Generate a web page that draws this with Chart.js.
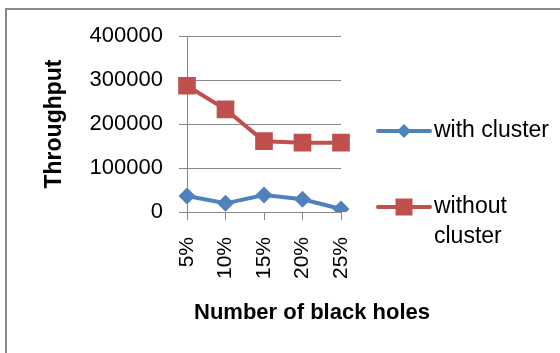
<!DOCTYPE html>
<html>
<head>
<meta charset="utf-8">
<title>Throughput vs number of black holes</title>
<script src="https://cdn.jsdelivr.net/npm/chart.js@4/dist/chart.umd.min.js"></script>
<style>
  html, body { margin: 0; padding: 0; background: #ffffff; }
  #wrap { width: 560px; height: 353px; position: relative; }
</style>
</head>
<body>
<div id="wrap"><canvas id="chart" width="560" height="353"></canvas></div>
<script>
// Share of black-hole nodes in the network
const categories = ['5%', '10%', '15%', '20%', '25%'];
// Throughput per scenario
const withCluster = [36400, 19700, 38600, 28800, 6800];
const withoutCluster = [287000, 233400, 161000, 157500, 157500];
// Value axis ticks
const yTicks = [0, 100000, 200000, 300000, 400000];

const seriesNames = ['with cluster', 'without cluster'];
const xAxisTitle = 'Number of black holes';
const yAxisTitle = 'Throughput';

const BLUE = '#4F81BD';
const RED = '#C0504D';
const GREY = '#878787';
const FONT = "'Liberation Sans', Arial, sans-serif";

// Grey frame round the chart
const framePlugin = {
  id: 'frame',
  beforeDraw(chart) {
    const ctx = chart.ctx;
    ctx.save();
    ctx.fillStyle = '#ffffff';
    ctx.fillRect(0, 0, chart.width, chart.height);
    ctx.strokeStyle = '#8a8a8a';
    ctx.lineWidth = 2;
    ctx.strokeRect(6, 9, chart.width + 20, chart.height + 20);
    ctx.restore();
  }
};

// Category axis title, centred under the plot and legend block
const bottomTitle = {
  id: 'bottomTitle',
  afterDraw(chart) {
    const ctx = chart.ctx;
    ctx.save();
    ctx.font = 'bold 22px ' + FONT;
    ctx.fillStyle = '#000000';
    ctx.textAlign = 'center';
    ctx.textBaseline = 'middle';
    ctx.fillText(xAxisTitle, 312, 313);
    ctx.restore();
  }
};

// Legend on the right, with word-wrapped labels
const sideLegend = {
  id: 'sideLegend',
  afterDraw(chart) {
    const ctx = chart.ctx;
    const lineX0 = 378, lineX1 = 430, textX = 434;
    const rowY = [131, 207];
    const lineGap = 30;
    const maxW = chart.width - textX - 4;
    ctx.save();
    ctx.font = '23px ' + FONT;
    ctx.textBaseline = 'middle';
    ctx.textAlign = 'left';
    chart.data.datasets.forEach((ds, i) => {
      const y = rowY[i];
      const cx = (lineX0 + lineX1) / 2;
      ctx.strokeStyle = ds.borderColor;
      ctx.lineWidth = 4;
      ctx.lineCap = 'round';
      ctx.beginPath();
      ctx.moveTo(lineX0, y);
      ctx.lineTo(lineX1, y);
      ctx.stroke();
      ctx.fillStyle = ds.pointBackgroundColor;
      ctx.beginPath();
      if (ds.pointStyle === 'rectRot') {
        const r = 7;
        ctx.moveTo(cx, y - r);
        ctx.lineTo(cx + r, y);
        ctx.lineTo(cx, y + r);
        ctx.lineTo(cx - r, y);
        ctx.closePath();
      } else {
        const h = 8.5;
        ctx.rect(cx - h, y - h, 2 * h, 2 * h);
      }
      ctx.fill();
      // wrap label words to the space left of the frame edge
      const words = ds.label.split(' ');
      const lines = [];
      let cur = '';
      words.forEach(w => {
        const test = cur ? cur + ' ' + w : w;
        if (cur && ctx.measureText(test).width > maxW) {
          lines.push(cur);
          cur = w;
        } else {
          cur = test;
        }
      });
      if (cur) lines.push(cur);
      ctx.fillStyle = '#000000';
      lines.forEach((ln, k) => ctx.fillText(ln, textX, y + k * lineGap));
    });
    ctx.restore();
  }
};

new Chart(document.getElementById('chart'), {
  type: 'line',
  data: {
    labels: categories,
    datasets: [
      {
        label: seriesNames[0],
        data: withCluster,
        borderColor: BLUE,
        backgroundColor: BLUE,
        pointBackgroundColor: BLUE,
        pointBorderColor: BLUE,
        pointStyle: 'rectRot',
        pointRadius: 8.5,
        pointBorderWidth: 0,
        borderWidth: 4,
        tension: 0,
        fill: false
      },
      {
        label: seriesNames[1],
        data: withoutCluster,
        borderColor: RED,
        backgroundColor: RED,
        pointBackgroundColor: RED,
        pointBorderColor: RED,
        pointStyle: 'rect',
        pointRadius: 12.5,
        pointBorderWidth: 0,
        borderWidth: 4,
        tension: 0,
        fill: false
      }
    ]
  },
  options: {
    responsive: false,
    animation: false,
    events: [],
    layout: { padding: { top: 36, right: 219, bottom: 0, left: 0 } },
    plugins: {
      legend: { display: false },
      tooltip: { enabled: false },
      title: { display: false }
    },
    scales: {
      x: {
        type: 'category',
        offset: false,
        afterFit(scale) { scale.height = 141; },
        border: { display: true, color: GREY, width: 1 },
        grid: { display: true, drawOnChartArea: false, drawTicks: true, tickLength: 8, color: GREY },
        ticks: {
          minRotation: 90,
          maxRotation: 90,
          autoSkip: false,
          padding: 17,
          color: '#000000',
          font: { family: FONT, size: 21 }
        },
        title: { display: false }
      },
      y: {
        min: yTicks[0],
        max: yTicks[yTicks.length - 1],
        afterFit(scale) { scale.width = 187; },
        afterBuildTicks(scale) { scale.ticks = yTicks.map(v => ({ value: v })); },
        border: { display: true, color: GREY, width: 1 },
        grid: { display: true, drawTicks: true, tickLength: 8, color: GREY, lineWidth: 1 },
        ticks: {
          padding: 16,
          color: '#000000',
          font: { family: FONT, size: 22 },
          callback: v => String(v)
        },
        title: {
          display: true,
          text: yAxisTitle,
          color: '#000000',
          font: { family: FONT, size: 23, weight: 'bold' },
          padding: { top: 41, bottom: 0 }
        }
      }
    }
  },
  plugins: [framePlugin, bottomTitle, sideLegend]
});
</script>
</body>
</html>
